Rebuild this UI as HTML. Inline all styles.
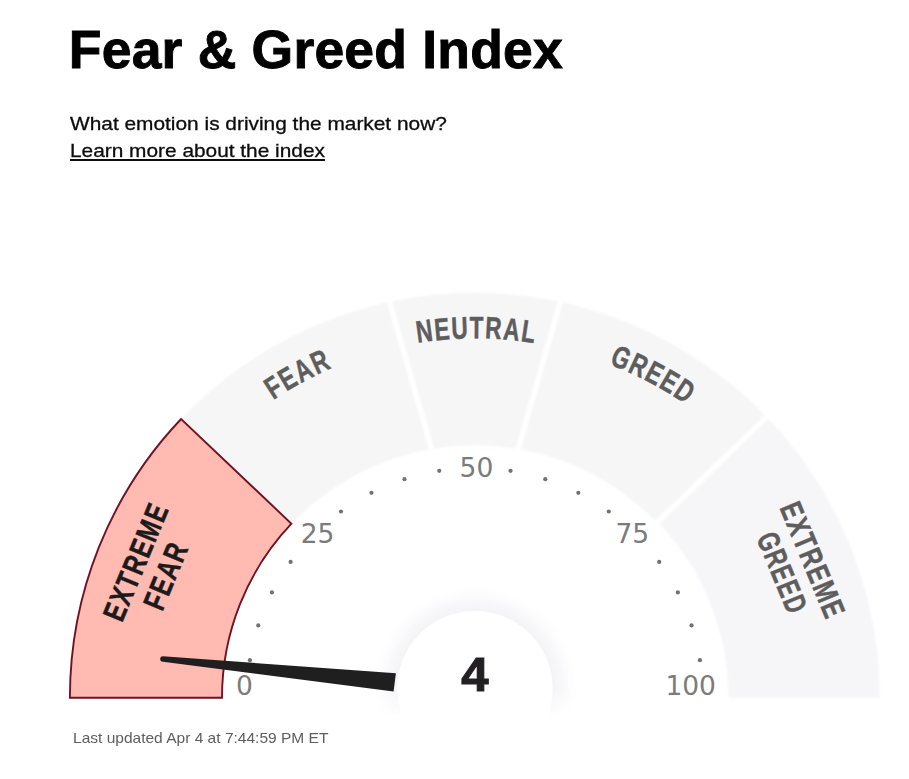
<!DOCTYPE html>
<html lang="en"><head><meta charset="utf-8"><title>Fear &amp; Greed Index</title>
<style>
html,body{margin:0;padding:0;background:#fff;}
body{width:909px;height:779px;position:relative;overflow:hidden;font-family:"Liberation Sans",Arial,sans-serif;color:#0c0c0c;}
.t{position:absolute;white-space:nowrap;line-height:1;transform-origin:0 0;}
h1{margin:0;font-size:53.5px;font-weight:bold;left:68.8px;top:22.7px;letter-spacing:0.2px;color:#000;-webkit-text-stroke:0.9px #000;}
.sub{font-size:19px;left:69.5px;top:113.7px;transform:scaleX(1.098);-webkit-text-stroke:0.3px #0c0c0c;}
.lnk{font-size:19px;left:69.5px;top:141px;transform:scaleX(1.097);color:#0c0c0c;-webkit-text-stroke:0.3px #0c0c0c;text-decoration:underline;text-decoration-thickness:2px;text-underline-offset:2px;}
.foot{font-size:14.2px;left:72.8px;top:730.8px;transform:scaleX(1.094);color:#5e5e5e;}
svg.g{position:absolute;left:0;top:0;}
</style></head><body>
<h1 class="t" id="title">Fear &amp; Greed Index</h1>
<div class="t sub" id="sub">What emotion is driving the market now?</div>
<a class="t lnk" id="lnk">Learn more about the index</a>
<svg class="g" width="909" height="779" viewBox="0 0 909 779"><defs><filter id="soft" x="-5%" y="-5%" width="110%" height="110%"><feGaussianBlur stdDeviation="0.9"/></filter><linearGradient id="fadeg" x1="0" y1="0" x2="0" y2="779" gradientUnits="userSpaceOnUse"><stop offset="0.885" stop-color="#fff"/><stop offset="0.92" stop-color="#fff" stop-opacity="0"/></linearGradient><mask id="hm"><rect x="0" y="0" width="909" height="779" fill="url(#fadeg)"/></mask><radialGradient id="hubg" cx="474.9" cy="688.6" r="104" gradientUnits="userSpaceOnUse"><stop offset="0" stop-color="#ffffff" stop-opacity="0"/><stop offset="0.74" stop-color="#ffffff" stop-opacity="0"/><stop offset="0.745" stop-color="#f4f3f6"/><stop offset="0.84" stop-color="#f8f7fa"/><stop offset="1" stop-color="#ffffff" stop-opacity="0"/></radialGradient><path id="arcL" d="M 115.30 697.80 A 359.6 359.6 0 0 1 834.50 697.80" fill="none"/></defs><g filter="url(#soft)">
<path d="M 290.16 525.53 L 178.70 421.59 A 405.0 405.0 0 0 1 768.68 419.02 L 658.13 523.92 A 252.6 252.6 0 0 0 290.16 525.53 Z" fill="#f6f6f6"/>
<path d="M 657.63 521.95 L 766.58 417.11 A 404.8 404.8 0 0 1 879.70 697.80 L 879.70 697.80 L 728.50 697.80 L 728.50 697.80 A 253.6 253.6 0 0 0 657.63 521.95 Z" fill="#f6f5f8"/>
<line x1="432.42" y1="451.84" x2="388.68" y2="299.01" stroke="#ffffff" stroke-width="5.4"/>
<line x1="517.38" y1="451.84" x2="561.12" y2="299.01" stroke="#ffffff" stroke-width="5.4"/>
<line x1="654.75" y1="524.73" x2="768.88" y2="414.89" stroke="#ffffff" stroke-width="5.4"/>
</g>
<path d="M 69.90 697.80 L 69.90 697.80 A 405.0 405.0 0 0 1 181.12 419.02 L 291.45 523.72 A 252.9 252.9 0 0 0 222.00 697.80 L 222.00 697.80 Z" fill="#ffbab1" stroke="#701226" stroke-width="1.9" stroke-linejoin="miter"/>
<circle cx="474.9" cy="688.6" r="104" fill="url(#hubg)" mask="url(#hm)"/>
<circle cx="474.9" cy="688.6" r="77.7" fill="#ffffff"/>
<g fill="#727272"><circle cx="249.90" cy="660.16" r="2.1"/><circle cx="258.25" cy="625.41" r="2.1"/><circle cx="271.93" cy="592.38" r="2.1"/><circle cx="290.61" cy="561.90" r="2.1"/><circle cx="341.00" cy="511.51" r="2.1"/><circle cx="371.48" cy="492.83" r="2.1"/><circle cx="404.51" cy="479.15" r="2.1"/><circle cx="439.26" cy="470.80" r="2.1"/><circle cx="510.54" cy="470.80" r="2.1"/><circle cx="545.29" cy="479.15" r="2.1"/><circle cx="578.32" cy="492.83" r="2.1"/><circle cx="608.80" cy="511.51" r="2.1"/><circle cx="659.19" cy="561.90" r="2.1"/><circle cx="677.87" cy="592.38" r="2.1"/><circle cx="691.55" cy="625.41" r="2.1"/><circle cx="699.90" cy="660.16" r="2.1"/></g>
<g font-family="DejaVu Sans, Liberation Sans, sans-serif" font-size="26.5" fill="#7b7b7b" text-anchor="middle"><text x="244.4" y="694.6">0</text><text x="317.6" y="543.2">25</text><text x="476.4" y="477.3">50</text><text x="632.3" y="543.2">75</text><text x="690.7" y="694.6">100</text></g>
<text font-family="Liberation Sans, Arial, sans-serif" font-weight="bold" font-size="31" fill="#5d5d5d" stroke="#5d5d5d" stroke-width="0.5" letter-spacing="2"><textPath href="#arcL" startOffset="384.7" text-anchor="middle" textLength="68" lengthAdjust="spacingAndGlyphs">FEAR</textPath></text>
<text font-family="Liberation Sans, Arial, sans-serif" font-weight="bold" font-size="31" fill="#5d5d5d" stroke="#5d5d5d" stroke-width="0.5" letter-spacing="2"><textPath href="#arcL" startOffset="566.1" text-anchor="middle" textLength="118.5" lengthAdjust="spacingAndGlyphs">NEUTRAL</textPath></text>
<text font-family="Liberation Sans, Arial, sans-serif" font-weight="bold" font-size="31" fill="#5d5d5d" stroke="#5d5d5d" stroke-width="0.5" letter-spacing="2" transform="rotate(-1.3 616 362)"><textPath href="#arcL" startOffset="745.9" text-anchor="middle" textLength="88" lengthAdjust="spacingAndGlyphs">GREED</textPath></text>
<g transform="translate(150.30 568.70) rotate(-67.5)" font-family="Liberation Sans, Arial, sans-serif" font-weight="bold" font-size="31" fill="#1c1a1b" stroke="#1c1a1b" stroke-width="0.5" letter-spacing="2" text-anchor="middle"><text x="1" y="-5.40" textLength="124.5" lengthAdjust="spacingAndGlyphs">EXTREME</text><text x="-0.5" y="27.60" textLength="70.5" lengthAdjust="spacingAndGlyphs">FEAR</text></g>
<g transform="translate(797.60 565.70) rotate(67.5)" font-family="Liberation Sans, Arial, sans-serif" font-weight="bold" font-size="31" fill="#5d5d5d" stroke="#5d5d5d" stroke-width="0.5" letter-spacing="2" text-anchor="middle"><text x="1" y="-5.40" textLength="123.5" lengthAdjust="spacingAndGlyphs">EXTREME</text><text x="1" y="27.60" textLength="85.5" lengthAdjust="spacingAndGlyphs">GREED</text></g>
<path d="M 162.9 656.3 L 395.9 673.2 L 393.6 691.6 L 162.9 661.7 A 2.7 2.7 0 0 1 162.9 656.3 Z" fill="#201f20"/>
<text x="475" y="690.8" font-family="Liberation Sans, Arial, sans-serif" font-weight="bold" font-size="49" fill="#231f23" stroke="#231f23" stroke-width="1.2" text-anchor="middle">4</text></svg>
<div class="t foot" id="foot">Last updated Apr 4 at 7:44:59 PM ET</div>
</body></html>
